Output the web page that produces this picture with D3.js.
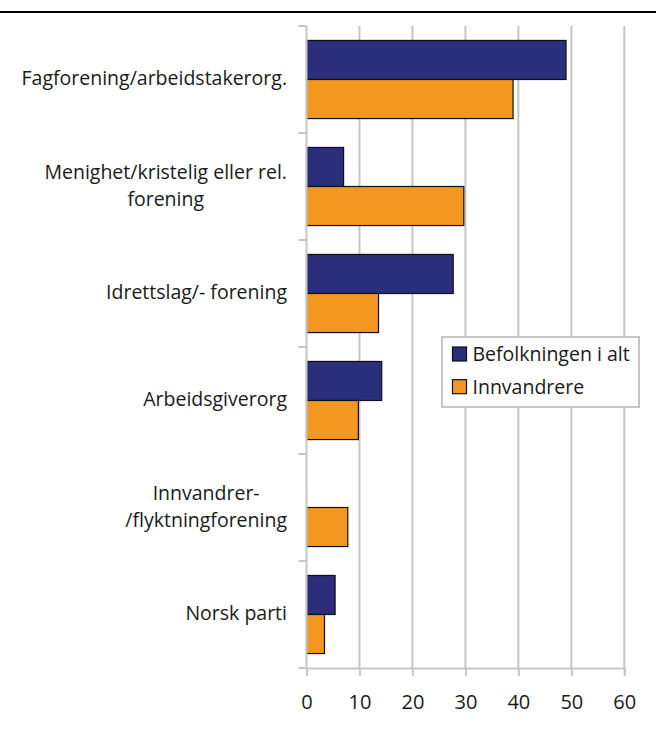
<!DOCTYPE html>
<html>
<head>
<meta charset="utf-8">
<script src="https://cdn.jsdelivr.net/npm/d3@7"></script>
<style>
  html, body { margin: 0; padding: 0; background: #fff; }
  svg { display: block; }
  text { font-family: "Open Sans", "Noto Sans", sans-serif; fill: #1a1a1a; }
</style>
</head>
<body>
<svg id="chart" width="656" height="729"></svg>
<script>
// Organisation categories (top to bottom); "\n" marks a line break in the label
const categories = [
  "Fagforening/arbeidstakerorg.",
  "Menighet/kristelig eller rel.\nforening",
  "Idrettslag/- forening",
  "Arbeidsgiverorg",
  "Innvandrer-\n/flyktningforening",
  "Norsk parti"
];
const seriesNames = ["Befolkningen i alt", "Innvandrere"];
const befolkningen = [49, 7, 27.7, 14.2, 0, 5.4];
const innvandrere = [39, 29.7, 13.6, 9.8, 7.8, 3.4];
const xTicks = [0, 10, 20, 30, 40, 50, 60];
const colors = ["#2a2e7c", "#f39720"];

const svg = d3.select("#chart");
const W = 656;
const m = { left: 306.5, right: 624.3, top: 26, bottom: 668 };
const fontSize = 19.5;
const labelRight = 287;

// rule across the top of the figure
svg.append("rect").attr("x", 0).attr("y", 11).attr("width", W).attr("height", 2).attr("fill", "#000");

const x = d3.scaleLinear().domain([0, 60]).range([m.left, m.right]);
const y = d3.scaleBand().domain(categories).range([m.top, m.bottom])
  .paddingInner(0.27).paddingOuter(0.135);
const ySub = d3.scaleBand().domain(seriesNames).range([0, y.bandwidth()]);

const grid = "#c6c6c6";

// vertical gridlines
svg.append("g").selectAll("line").data(xTicks.slice(1)).join("line")
  .attr("x1", d => x(d)).attr("x2", d => x(d))
  .attr("y1", m.top).attr("y2", m.bottom)
  .attr("stroke", grid).attr("stroke-width", 2);

// bars
const rows = categories.map((c, i) => ({ c, vals: [befolkningen[i], innvandrere[i]] }));
const gRows = svg.append("g").selectAll("g").data(rows).join("g")
  .attr("transform", d => `translate(0,${y(d.c)})`);
gRows.selectAll("rect").data(d => d.vals.map((v, k) => ({ v, k })).filter(e => e.v > 0)).join("rect")
  .attr("x", x(0))
  .attr("y", e => ySub(seriesNames[e.k]))
  .attr("width", e => x(e.v) - x(0))
  .attr("height", ySub.bandwidth())
  .attr("fill", e => colors[e.k])
  .attr("stroke", "#111").attr("stroke-width", 1.2);

// category axis (left) with ticks at band boundaries
const step = y.step();
const bounds = d3.range(categories.length + 1).map(i => m.top + i * step);
const yAxisG = svg.append("g");
yAxisG.append("line").attr("x1", m.left).attr("x2", m.left).attr("y1", m.top).attr("y2", m.bottom)
  .attr("stroke", grid).attr("stroke-width", 2);
yAxisG.selectAll("line.t").data(bounds).join("line").attr("class", "t")
  .attr("x1", m.left - 8).attr("x2", m.left).attr("y1", d => d).attr("y2", d => d)
  .attr("stroke", grid).attr("stroke-width", 2);

// category labels: block right-aligned to the axis, lines centred within the block
const labels = svg.append("g").selectAll("text").data(categories).join("text")
  .attr("font-size", fontSize);
labels.each(function (d) {
  const lines = d.split("\n");
  const cy = y(d) + y.bandwidth() / 2;
  const lh = 27.5;
  const t = d3.select(this);
  const spans = lines.map((ln, i) => t.append("tspan")
    .attr("y", cy + (i - (lines.length - 1) / 2) * lh)
    .attr("dy", "0.3em").text(ln));
  const widths = spans.map(s => s.node().getComputedTextLength());
  const maxW = d3.max(widths);
  spans.forEach((s, i) => s.attr("x", labelRight - maxW / 2 - widths[i] / 2));
});

// value axis (bottom)
const xAxis = d3.axisBottom(x).tickValues(xTicks).tickSize(8).tickPadding(19).tickFormat(d3.format("d"));
const xg = svg.append("g").attr("transform", `translate(0,${m.bottom})`).call(xAxis);
xg.select(".domain").attr("stroke", grid).attr("stroke-width", 2);
xg.selectAll(".tick line").attr("stroke", grid).attr("stroke-width", 2);
xg.selectAll(".tick text").attr("font-size", 20).attr("fill", "#1a1a1a")
  .style("font-family", "'Open Sans', 'Noto Sans', sans-serif");

// legend
const lg = svg.append("g").attr("transform", "translate(442,337)");
lg.append("rect").attr("width", 197).attr("height", 70).attr("fill", "#fff")
  .attr("stroke", grid).attr("stroke-width", 2);
seriesNames.forEach((s, i) => {
  const yy = 10 + i * 32.7;
  lg.append("rect").attr("x", 10.5).attr("y", yy).attr("width", 14).attr("height", 14)
    .attr("fill", colors[i]).attr("stroke", "#111").attr("stroke-width", 1.2);
  lg.append("text").attr("x", 30.5).attr("y", yy + 14)
    .attr("font-size", fontSize).text(s);
});
</script>
</body>
</html>
